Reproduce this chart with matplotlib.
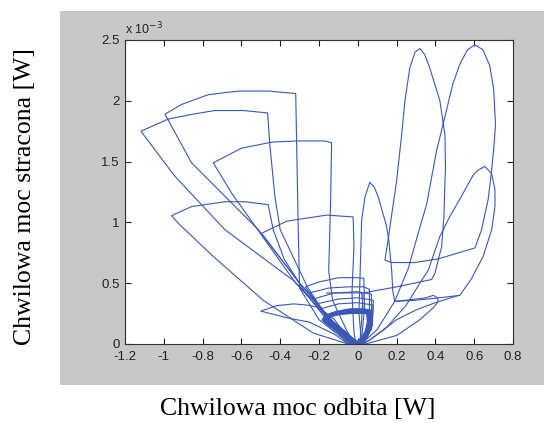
import matplotlib
matplotlib.use('Agg')
import matplotlib.pyplot as plt
from matplotlib.patches import Rectangle

# dane: x [W], y [1e-3 W]
# prawa strona - petle (listy punktow x, y)
lobe_1_x = [0.02, 0.006, 0.011, 0.02, 0.037, 0.062, 0.085, 0.105, 0.148, 0.16, 0.175, 0.18, 0.19, 0.3, 0.42, 0.526,
            0.587, 0.646, 0.69, 0.707, 0.707, 0.69, 0.655, 0.62, 0.595, 0.543, 0.475, 0.423, 0.364, 0.32, 0.25, 0.15,
            0.06, 0.02]
lobe_1_y = [0.0, 0.25, 0.53, 1.02, 1.21, 1.33, 1.29, 1.21, 0.97, 0.85, 0.6, 0.44, 0.35, 0.36, 0.38, 0.40,
            0.54, 0.72, 0.94, 1.13, 1.27, 1.40, 1.46, 1.43, 1.39, 1.24, 1.05, 0.885, 0.61, 0.5, 0.32, 0.14,
            0.03, 0.0]
lobe_2_x = [0.02, 0.1, 0.19, 0.26, 0.32, 0.355, 0.406, 0.44, 0.49, 0.526, 0.565, 0.604, 0.645, 0.68, 0.70, 0.71,
            0.70, 0.69, 0.672, 0.638, 0.604, 0.414, 0.294, 0.174, 0.14, 0.16, 0.2, 0.226, 0.243, 0.268, 0.295,
            0.32, 0.345, 0.371, 0.423, 0.449, 0.452, 0.449, 0.444, 0.432, 0.397, 0.38, 0.2, 0.027, 0.02, 0.01]
lobe_2_y = [0.0, 0.12, 0.35, 0.62, 0.96, 1.15, 1.59, 1.81, 2.14, 2.30, 2.42, 2.46, 2.42, 2.29, 2.1, 1.8,
            1.6, 1.43, 1.19, 0.94, 0.79, 0.70, 0.67, 0.67, 0.69, 0.9, 1.34, 1.72, 2.0, 2.27, 2.40,
            2.43, 2.38, 2.27, 2.0, 1.72, 1.45, 1.33, 1.05, 0.80, 0.58, 0.53, 0.47, 0.42, 0.2, 0.0]
bump_x = [0.04, 0.2, 0.32, 0.39, 0.415, 0.41, 0.39, 0.35, 0.3, 0.19]
bump_y = [0.0, 0.07, 0.2, 0.3, 0.35, 0.38, 0.40, 0.38, 0.37, 0.35]
fan_right_x = [0.03, 0.12, 0.2, 0.3, 0.4, 0.52]
fan_right_y = [0.0, 0.1, 0.2, 0.28, 0.34, 0.40]

# lewa strona - "wachlarze"
fan_a_x = [-0.03, -0.12, -0.22, -0.3, -0.513, -0.857, -0.994, -0.908, -0.771, -0.616, -0.462, -0.32, -0.307,
           -0.3, -0.2, -0.08, -0.03]
fan_a_y = [0.0, 0.15, 0.35, 0.5, 0.94, 1.49, 1.89, 1.97, 2.05, 2.08, 2.08, 2.06, 0.94,
           0.46, 0.2, 0.05, 0.0]
fan_b_x = [-0.03, -0.13, -0.23, -0.33, -0.685, -0.943, -1.118, -0.977, -0.85, -0.737, -0.59, -0.465, -0.453,
           -0.427, -0.40, -0.26, -0.15, -0.05]
fan_b_y = [0.0, 0.17, 0.36, 0.52, 0.94, 1.38, 1.75, 1.85, 1.89, 1.92, 1.92, 1.90, 1.63,
           1.21, 0.94, 0.47, 0.2, 0.02]
fan_c_x = [-0.04, -0.14, -0.25, -0.32, -0.65, -0.745, -0.6, -0.444, -0.315, -0.17, -0.135, -0.14, -0.15, -0.13,
           -0.06, -0.02]
fan_c_y = [0.0, 0.18, 0.38, 0.5, 1.24, 1.49, 1.61, 1.66, 1.67, 1.67, 1.655, 1.19, 0.6, 0.36,
           0.12, 0.0]
fan_d_x = [-0.05, -0.23, -0.488, -0.745, -0.917, -0.96, -0.857, -0.685, -0.582, -0.462, -0.436, -0.38, -0.27,
           -0.15, -0.05]
fan_d_y = [0.0, 0.09, 0.36, 0.72, 0.98, 1.055, 1.13, 1.17, 1.17, 1.146, 0.94, 0.7, 0.42,
           0.18, 0.0]
fan_e_x = [-0.04, -0.14, -0.24, -0.3, -0.496, -0.367, -0.161, -0.024, -0.02, -0.03, -0.02, -0.01]
fan_e_y = [0.0, 0.2, 0.4, 0.5, 0.91, 1.01, 1.06, 1.045, 0.8, 0.42, 0.1, 0.0]
fan_f_x = [-0.05, -0.12, -0.25, -0.35, -0.5, -0.42, -0.33, -0.26, -0.2, -0.12, -0.05]
fan_f_y = [0.0, 0.08, 0.18, 0.21, 0.27, 0.315, 0.33, 0.32, 0.3, 0.2, 0.05]

# luki przy poczatku ukladu
arc_1_x = [-0.03, -0.15, -0.27, -0.2, -0.1, 0.0, 0.031, 0.035, 0.02, 0.0]
arc_1_y = [0.0, 0.2, 0.47, 0.51, 0.545, 0.545, 0.54, 0.3, 0.05, 0.0]
arc_2_x = [-0.03, -0.14, -0.25, -0.15, -0.05, 0.03, 0.06, 0.06, 0.02]
arc_2_y = [0.0, 0.2, 0.42, 0.46, 0.47, 0.47, 0.45, 0.2, 0.0]
arc_3_x = [-0.03, -0.13, -0.23, -0.12, 0.0, 0.07, 0.07, 0.03]
arc_3_y = [0.0, 0.18, 0.37, 0.42, 0.43, 0.41, 0.2, 0.0]
arc_4_x = [-0.02, -0.12, -0.21, -0.1, 0.0, 0.08, 0.075, 0.03]
arc_4_y = [0.0, 0.17, 0.33, 0.37, 0.38, 0.36, 0.15, 0.0]
arc_5_x = [-0.02, -0.11, -0.19, -0.1, 0.0, 0.08, 0.07, 0.02]
arc_5_y = [0.0, 0.15, 0.29, 0.33, 0.34, 0.32, 0.12, 0.0]
arc_6_x = [-0.16, -0.05, 0.02, 0.027]
arc_6_y = [0.42, 0.42, 0.42, 0.3]

# gesty trojkat w poblizu zera
core_x = [0.0, -0.08, -0.15, -0.178, -0.14, -0.092, -0.006, 0.062, 0.062, 0.054, 0.03, 0.0]
core_y = [0.0, 0.08, 0.16, 0.2, 0.24, 0.26, 0.27, 0.26, 0.2, 0.115, 0.05, 0.0]
core_2_x = [0.01, -0.06, -0.13, -0.16, -0.12, -0.06, 0.0, 0.05, 0.055, 0.04, 0.01]
core_2_y = [0.0, 0.07, 0.15, 0.21, 0.25, 0.27, 0.28, 0.27, 0.18, 0.08, 0.0]
core_3_x = [-0.01, -0.09, -0.16, -0.17, -0.1, -0.03, 0.04, 0.07, 0.06, 0.02, -0.01]
core_3_y = [0.0, 0.09, 0.18, 0.22, 0.25, 0.26, 0.26, 0.24, 0.14, 0.04, 0.0]
core_4_x = [0.0, -0.07, -0.14, -0.165, -0.11, -0.04, 0.03, 0.065, 0.07, 0.045, 0.0]
core_4_y = [0.0, 0.1, 0.19, 0.23, 0.26, 0.28, 0.28, 0.27, 0.16, 0.06, 0.0]

paths = [(lobe_1_x, lobe_1_y), (lobe_2_x, lobe_2_y), (bump_x, bump_y), (fan_right_x, fan_right_y),
         (fan_a_x, fan_a_y), (fan_b_x, fan_b_y), (fan_c_x, fan_c_y), (fan_d_x, fan_d_y),
         (fan_e_x, fan_e_y), (fan_f_x, fan_f_y),
         (arc_1_x, arc_1_y), (arc_2_x, arc_2_y), (arc_3_x, arc_3_y), (arc_4_x, arc_4_y),
         (arc_5_x, arc_5_y), (arc_6_x, arc_6_y)]
core_paths = [(core_x, core_y), (core_2_x, core_2_y), (core_3_x, core_3_y), (core_4_x, core_4_y)]

x_ticks = [-1.2, -1.0, -0.8, -0.6, -0.4, -0.2, 0.0, 0.2, 0.4, 0.6, 0.8]
x_labels = ['-1.2', '-1', '-0.8', '-0.6', '-0.4', '-0.2', '0', '0.2', '0.4', '0.6', '0.8']
y_ticks = [0.0, 0.5, 1.0, 1.5, 2.0, 2.5]
y_labels = ['0', '0.5', '1', '1.5', '2', '2.5']

line_color = '#3a58b4'

fig = plt.figure(figsize=(5.44, 4.23), dpi=100)
fig.patches.append(Rectangle((60 / 544, 1 - 385 / 423), 484 / 544, 374 / 423,
                             transform=fig.transFigure, facecolor='#c8c8c8', edgecolor='none', zorder=-1))
ax = fig.add_axes([125 / 544, 1 - 344 / 423, 388 / 544, 304 / 423])

for px, py in paths:
    ax.plot(px, py, color=line_color, lw=0.8)
for px, py in core_paths:
    ax.plot(px, py, color=line_color, lw=2.4)

ax.set_xlim(-1.2, 0.8)
ax.set_ylim(0, 2.5)
ax.set_xticks(x_ticks)
ax.set_xticklabels(x_labels, family='Liberation Sans')
ax.set_yticks(y_ticks)
ax.set_yticklabels(y_labels, family='Liberation Sans')
ax.tick_params(direction='in', length=4, width=0.8, top=True, right=True, labelsize=9.5,
               colors='#222222')
ax.tick_params(axis='x', pad=5)
ax.tick_params(axis='y', pad=4)
for s in ax.spines.values():
    s.set_color('#333333')
    s.set_linewidth(0.8)

ax.text(0.0, 1.01, r'x 10$^{-3}$', transform=ax.transAxes, fontsize=9, color='#222222',
        family='Liberation Sans', ha='left', va='bottom')

fig.text(298 / 544, 1 - 409 / 423, 'Chwilowa moc odbita [W]', family='Liberation Serif',
         fontsize=18.5, ha='center', va='center')
fig.text(25 / 544, 1 - 197 / 423, 'Chwilowa moc stracona [W]', family='Liberation Serif',
         fontsize=18.5, ha='center', va='center', rotation=90)

fig.savefig('out.png', dpi=100)
